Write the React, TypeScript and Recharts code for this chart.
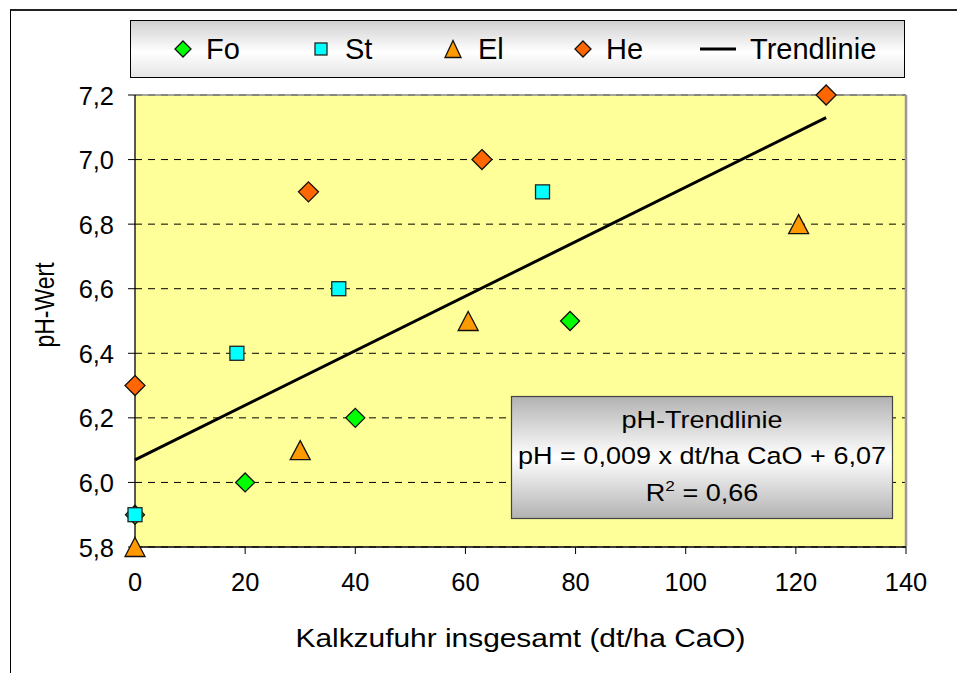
import React from 'react';
import { ScatterChart, Scatter, XAxis, YAxis, CartesianGrid, ReferenceLine, Label } from 'recharts';

// ---- data ----
const foX = [0, 20, 40, 79];
const foY = [5.9, 6.0, 6.2, 6.5];
const stX = [0, 18.5, 37, 74];
const stY = [5.9, 6.4, 6.6, 6.9];
const elX = [0, 30, 60.5, 120.5];
const elY = [5.8, 6.1, 6.5, 6.8];
const heX = [0, 31.5, 63, 125.5];
const heY = [6.3, 6.9, 7.0, 7.2];
const trendX = [0, 125.5];
const trendY = [6.07, 7.13];
const xTicks = [0, 20, 40, 60, 80, 100, 120, 140];
const yTicks = [5.8, 6.0, 6.2, 6.4, 6.6, 6.8, 7.0, 7.2];
const seriesNames = ['Fo', 'St', 'El', 'He', 'Trendlinie'];
const boxLines = ['pH-Trendlinie', 'pH = 0,009 x dt/ha CaO + 6,07', 'R', '2', ' = 0,66'];
const xTitle = 'Kalkzufuhr insgesamt (dt/ha CaO)';
const yTitle = 'pH-Wert';

const zip = (xs: number[], ys: number[]) => xs.map((x, i) => ({ x, y: ys[i] }));

const FONT = '"Liberation Sans", Arial, sans-serif';
const SX = 1.15;

const Diamond = (fill: string, h: number) => (p: any) => {
  const { cx, cy } = p;
  if (cx == null || cy == null) return <g />;
  return (
    <path
      d={`M${cx},${cy - h} L${cx + h},${cy} L${cx},${cy + h} L${cx - h},${cy} Z`}
      fill={fill}
      stroke="#111"
      strokeWidth={1.3}
    />
  );
};
const Square = (fill: string, h: number) => (p: any) => {
  const { cx, cy } = p;
  if (cx == null || cy == null) return <g />;
  return <rect x={cx - h} y={cy - h} width={2 * h} height={2 * h} fill={fill} stroke="#222" strokeWidth={1.3} />;
};
const Triangle = (fill: string, w: number, h: number) => (p: any) => {
  const { cx, cy } = p;
  if (cx == null || cy == null) return <g />;
  return (
    <path
      d={`M${cx},${cy - h / 2} L${cx + w / 2},${cy + h / 2} L${cx - w / 2},${cy + h / 2} Z`}
      fill={fill}
      stroke="#111"
      strokeWidth={1.3}
    />
  );
};
const NoShape = () => <g />;

const fmtY = (v: number) => v.toFixed(1).replace('.', ',');

const YTick = (p: any) => {
  const { x, y, payload } = p;
  return (
    <text
      transform={`translate(${x},${y + 9.5}) scale(0.96,1)`}
      textAnchor="end"
      fontFamily={FONT}
      fontSize={26.5}
      fill="#000"
    >
      {fmtY(payload.value)}
    </text>
  );
};
const XTick = (p: any) => {
  const { x, y, payload } = p;
  return (
    <text
      transform={`translate(${x},${y + 35}) scale(0.96,1)`}
      textAnchor="middle"
      fontFamily={FONT}
      fontSize={26.5}
      fill="#000"
    >
      {payload.value}
    </text>
  );
};

const XTitle = (p: any) => {
  const vb = p.viewBox || {};
  const cx = vb.x + vb.width / 2;
  return (
    <text
      transform={`translate(${cx},${vb.y + 100}) scale(${SX},1)`}
      textAnchor="middle"
      fontFamily={FONT}
      fontSize={26}
      fill="#000"
    >
      {xTitle}
    </text>
  );
};
const YTitle = () => (
  <text
    transform={`translate(54,305) scale(1.2,1) rotate(-90)`}
    textAnchor="middle"
    fontFamily={FONT}
    fontSize={23}
    fill="#000"
  >
    {yTitle}
  </text>
);

const LegendIcon = ({ i }: { i: number }) => {
  if (i === 0) return Diamond('#00FF00', 8)({ cx: 10, cy: 12 });
  if (i === 1) return Square('#00FFFF', 6)({ cx: 10, cy: 12 });
  if (i === 2) return Triangle('#FF9900', 16, 17)({ cx: 10, cy: 12 });
  if (i === 3) return Diamond('#FF6600', 8)({ cx: 10, cy: 12 });
  return <line x1={-8} y1={12} x2={28} y2={12} stroke="#000" strokeWidth={3} />;
};

const legendIconX = [183, 321, 453, 583, 718];
const legendTextX = [206, 345, 478, 606, 750];

export default function App() {
  return (
    <div style={{ position: 'absolute', left: 0, top: 0, width: 957, height: 673, background: '#fff', overflow: 'hidden' }}>
      <div
        style={{
          position: 'absolute',
          left: 10,
          top: 9,
          width: 1000,
          height: 700,
          borderTop: '2px solid #222',
          borderLeft: '1px solid #000',
        }}
      />
      <div style={{ position: 'absolute', left: 0, top: 0 }}>
        <ScatterChart width={957} height={673} margin={{ top: 95, right: 51, bottom: 86, left: 75 }}>
          <CartesianGrid vertical={false} stroke="#000" strokeDasharray="7 6" fill="#FFFF99" fillOpacity={1} />
          <XAxis
            type="number"
            dataKey="x"
            domain={[0, 140]}
            ticks={xTicks}
            height={40}
            tickSize={7}
            tick={XTick}
            axisLine={{ stroke: '#000', strokeWidth: 1.3 }}
            tickLine={{ stroke: '#000' }}
            interval={0}
          >
            <Label content={XTitle} />
          </XAxis>
          <YAxis
            type="number"
            dataKey="y"
            domain={[5.8, 7.2]}
            ticks={yTicks}
            width={60}
            tickSize={7}
            tickMargin={14}
            tick={YTick}
            axisLine={{ stroke: '#000', strokeWidth: 1.3 }}
            tickLine={{ stroke: '#000' }}
            interval={0}
          >
            <Label content={YTitle} />
          </YAxis>
          <ReferenceLine y={7.2} stroke="#888" strokeWidth={1.5} />
          <ReferenceLine x={140} stroke="#999" strokeWidth={2.5} />
          <Scatter name={seriesNames[4]} data={zip(trendX, trendY)} line={{ stroke: '#000', strokeWidth: 3 }} shape={NoShape} isAnimationActive={false} />
          <Scatter name={seriesNames[0]} data={zip(foX, foY)} shape={Diamond('#00FF00', 9.5)} isAnimationActive={false} />
          <Scatter name={seriesNames[1]} data={zip(stX, stY)} shape={Square('#00FFFF', 7)} isAnimationActive={false} />
          <Scatter name={seriesNames[2]} data={zip(elX, elY)} shape={Triangle('#FF9900', 20, 19)} isAnimationActive={false} />
          <Scatter name={seriesNames[3]} data={zip(heX, heY)} shape={Diamond('#FF6600', 10)} isAnimationActive={false} />
        </ScatterChart>
      </div>
      <svg style={{ position: 'absolute', left: 0, top: 0 }} width={957} height={673} pointerEvents="none">
        <defs>
          <linearGradient id="lg" x1="0" y1="0" x2="0" y2="1">
            <stop offset="0" stopColor="#cfcfcf" />
            <stop offset="0.55" stopColor="#ffffff" />
            <stop offset="1" stopColor="#e4e4e4" />
          </linearGradient>
          <linearGradient id="bg" x1="0" y1="0" x2="0" y2="1">
            <stop offset="0" stopColor="#b2b2b2" />
            <stop offset="0.5" stopColor="#ffffff" />
            <stop offset="1" stopColor="#b2b2b2" />
          </linearGradient>
        </defs>
        {/* legend */}
        <rect x={130.5} y={20.5} width={774} height={57} fill="url(#lg)" stroke="#000" strokeWidth={1} />
        {seriesNames.map((n, i) => (
          <g key={n}>
            <g transform={`translate(${legendIconX[i] - 10},${37})`}>
              <LegendIcon i={i} />
            </g>
            <text
              transform={`translate(${legendTextX[i]},${59}) scale(1.0,1)`}
              fontFamily={FONT}
              fontSize={29}
              fill="#000"
            >
              {n}
            </text>
          </g>
        ))}
        {/* equation box */}
        <rect x={511.5} y={396.5} width={381} height={122} fill="url(#bg)" stroke="#444" strokeWidth={1.2} />
        <text transform={`translate(702,428) scale(${SX},1)`} textAnchor="middle" fontFamily={FONT} fontSize={23.5} fill="#000">
          {boxLines[0]}
        </text>
        <text transform={`translate(702,464) scale(${SX},1)`} textAnchor="middle" fontFamily={FONT} fontSize={23.5} fill="#000">
          {boxLines[1]}
        </text>
        <text transform={`translate(702,501) scale(${SX},1)`} textAnchor="middle" fontFamily={FONT} fontSize={23.5} fill="#000">
          <tspan>{boxLines[2]}</tspan>
          <tspan fontSize={15} dy={-10}>{boxLines[3]}</tspan>
          <tspan dy={10}>{boxLines[4]}</tspan>
        </text>
      </svg>
    </div>
  );
}
